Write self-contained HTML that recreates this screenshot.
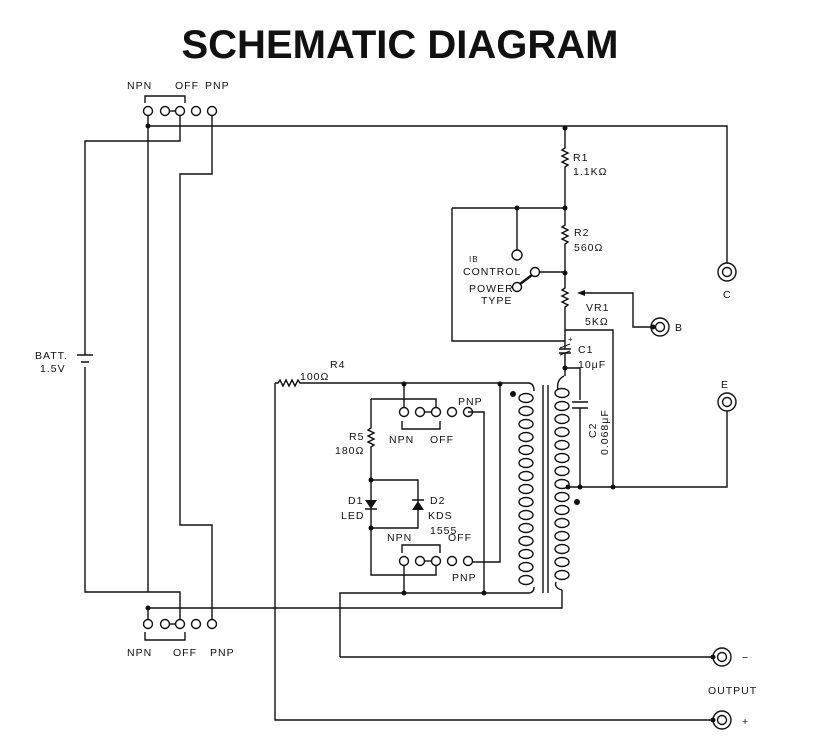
<!DOCTYPE html>
<html><head><style>
body{margin:0;background:#fff}
svg{display:block}
text{font-family:"Liberation Sans",sans-serif;fill:#111;font-size:10.5px;letter-spacing:1px}
.t{font-size:40px;font-weight:bold;letter-spacing:0}
</style></head><body>
<svg width="818" height="754" viewBox="0 0 818 754" xmlns="http://www.w3.org/2000/svg">
<text class="t" x="400" y="58" text-anchor="middle">SCHEMATIC DIAGRAM</text>
<g stroke="#111" stroke-width="1.4" fill="none">
<path d="M145 103V96H185V103"/>
<circle cx="148" cy="111" r="4.5"/><circle cx="165" cy="111" r="4.5"/><circle cx="180" cy="111" r="4.5"/><circle cx="196" cy="111" r="4.5"/><circle cx="212" cy="111" r="4.5"/>
<path d="M169 111H176"/>
<path d="M148 116V592"/>
<path d="M148 126H727V263"/>
<path d="M180 116V141H85V355"/>
<path d="M85 367V592H180V619"/>
<path d="M212 116V174H180V525H212V619"/>
<path d="M148 608H562V590"/>
<path d="M148 608V619"/>
<path d="M77 355H93M81 362H89" stroke-width="1.6"/>
<circle cx="148" cy="624" r="4.5"/><circle cx="165" cy="624" r="4.5"/><circle cx="180" cy="624" r="4.5"/><circle cx="196" cy="624" r="4.5"/><circle cx="212" cy="624" r="4.5"/>
<path d="M169 624H176"/>
<path d="M145 632V640H185V632"/>
<path d="M565 128V148l-3 2 6 3-6 3 6 3-6 3 6 3-3 2V225l-3 2 6 3-6 3 6 3-6 3 6 3-3 2V288l-3 2 6 3-6 3 6 3-6 3 6 3-3 2V330H613V487"/>
<path d="M452 208H565M517 208V250M452 208V341H565"/>
<circle cx="517" cy="255" r="5"/>
<circle cx="535" cy="272" r="4.5"/><circle cx="517" cy="287" r="4.5"/>
<path d="M540 272H565"/>
<path d="M532 275L520 284" stroke-width="2.5"/>
<path d="M580 293H633V327H651"/>
<circle cx="660" cy="327" r="9"/><circle cx="660" cy="327" r="4.5"/>
<path d="M565 330V349M559 349H571M559 353H571M565 353V368H580V400M572 402H588M572 408H588M580 408V487"/>
<path d="M560 348l10 -4M560 355l10-4" stroke-width="1"/>
<path d="M565 368V376"/>
<path d="M567 487H727V411"/>
<circle cx="727" cy="272" r="9"/><circle cx="727" cy="272" r="4.5"/>
<circle cx="727" cy="402" r="9"/><circle cx="727" cy="402" r="4.5"/>
<path d="M543 385V593M548 385V593"/>
<path d="M275 383H278l2-3 3 6 3-6 3 6 3-6 3 6 3-6 2 3H528q6 0 6 8"/>
<path d="M275 383V720H713"/>
<path d="M340 657H713M340 657V593H528q6 0 6-6"/>
<path d="M404 384V407M500 384V562H473M468 412H484V593"/>
<path d="M371 399H436V407M371 399V428l-3 2 6 3-6 3 6 3-6 3 6 3-3 2V575H436V566M371 480H418V528H371M404 566V593"/>
<circle cx="404" cy="412" r="4.5"/><circle cx="420" cy="412" r="4.5"/><circle cx="436" cy="412" r="4.5"/><circle cx="452" cy="412" r="4.5"/><circle cx="468" cy="412" r="4.5"/>
<path d="M424 412H432"/>
<path d="M402 421V429H440V421"/>
<circle cx="404" cy="561" r="4.5"/><circle cx="420" cy="561" r="4.5"/><circle cx="436" cy="561" r="4.5"/><circle cx="452" cy="561" r="4.5"/><circle cx="468" cy="561" r="4.5"/>
<path d="M424 561H432"/>
<path d="M402 553V545H440V553"/>
<path d="M564 376q-8 4-6 14M562 590q-8 -2-6 -8"/>
<circle cx="722" cy="657" r="9"/><circle cx="722" cy="657" r="4.5"/>
<circle cx="722" cy="720" r="9"/><circle cx="722" cy="720" r="4.5"/>
</g>
<g stroke="#111" stroke-width="1.4" fill="none">
<ellipse cx="526" cy="398" rx="7" ry="4.5"/><ellipse cx="526" cy="411" rx="7" ry="4.5"/><ellipse cx="526" cy="424" rx="7" ry="4.5"/><ellipse cx="526" cy="437" rx="7" ry="4.5"/><ellipse cx="526" cy="450" rx="7" ry="4.5"/><ellipse cx="526" cy="463" rx="7" ry="4.5"/><ellipse cx="526" cy="476" rx="7" ry="4.5"/><ellipse cx="526" cy="489" rx="7" ry="4.5"/><ellipse cx="526" cy="502" rx="7" ry="4.5"/><ellipse cx="526" cy="515" rx="7" ry="4.5"/><ellipse cx="526" cy="528" rx="7" ry="4.5"/><ellipse cx="526" cy="541" rx="7" ry="4.5"/><ellipse cx="526" cy="554" rx="7" ry="4.5"/><ellipse cx="526" cy="567" rx="7" ry="4.5"/><ellipse cx="526" cy="580" rx="7" ry="4.5"/>
<ellipse cx="562" cy="393" rx="7" ry="4.5"/><ellipse cx="562" cy="406" rx="7" ry="4.5"/><ellipse cx="562" cy="419" rx="7" ry="4.5"/><ellipse cx="562" cy="432" rx="7" ry="4.5"/><ellipse cx="562" cy="445" rx="7" ry="4.5"/><ellipse cx="562" cy="458" rx="7" ry="4.5"/><ellipse cx="562" cy="471" rx="7" ry="4.5"/><ellipse cx="562" cy="484" rx="7" ry="4.5"/><ellipse cx="562" cy="497" rx="7" ry="4.5"/><ellipse cx="562" cy="510" rx="7" ry="4.5"/><ellipse cx="562" cy="523" rx="7" ry="4.5"/><ellipse cx="562" cy="536" rx="7" ry="4.5"/><ellipse cx="562" cy="549" rx="7" ry="4.5"/><ellipse cx="562" cy="562" rx="7" ry="4.5"/><ellipse cx="562" cy="575" rx="7" ry="4.5"/>
</g>
<g fill="#111">
<circle cx="148" cy="126" r="2.5"/><circle cx="148" cy="608" r="2.5"/><circle cx="565" cy="128" r="2.5"/><circle cx="565" cy="208" r="2.5"/><circle cx="517" cy="208" r="2.5"/><circle cx="565" cy="273" r="2.5"/><circle cx="653" cy="327" r="2.5"/><circle cx="565" cy="368" r="2.5"/><circle cx="568" cy="487" r="2.5"/><circle cx="580" cy="487" r="2.5"/><circle cx="613" cy="487" r="2.5"/><circle cx="404" cy="384" r="2.5"/><circle cx="500" cy="384" r="2.5"/><circle cx="371" cy="480" r="2.5"/><circle cx="371" cy="528" r="2.5"/><circle cx="404" cy="593" r="2.5"/><circle cx="484" cy="593" r="2.5"/><circle cx="513" cy="394" r="3"/><circle cx="577" cy="502" r="3"/><circle cx="713" cy="657" r="2.5"/><circle cx="713" cy="720" r="2.5"/>
<path d="M577 293l8-3v6z"/>
<path d="M365 500h12l-6 9z"/><path d="M365 509h12" stroke="#111" stroke-width="1.5"/>
<path d="M412 510h12l-6-9z"/><path d="M412 500h12" stroke="#111" stroke-width="1.5"/>
</g>
<text x="127" y="89">NPN</text><text x="175" y="89">OFF</text><text x="205" y="89">PNP</text>
<text x="127" y="656">NPN</text><text x="173" y="656">OFF</text><text x="210" y="656">PNP</text>
<text x="35" y="359">BATT.</text><text x="40" y="372">1.5V</text>
<text x="573" y="161">R1</text><text x="573" y="175">1.1KΩ</text>
<text x="574" y="236">R2</text><text x="574" y="251">560Ω</text>
<text x="469" y="262" style="font-size:8px">IB</text>
<text x="463" y="275">CONTROL</text><text x="469" y="292">POWER</text><text x="481" y="304">TYPE</text>
<text x="586" y="311">VR1</text><text x="585" y="325">5KΩ</text>
<text x="675" y="331">B</text><text x="723" y="298">C</text><text x="721" y="388">E</text>
<text x="568" y="342" style="font-size:8px">+</text>
<text x="578" y="353">C1</text><text x="578" y="368">10μF</text>
<text transform="translate(596,438) rotate(-90)">C2</text>
<text transform="translate(608,455) rotate(-90)">0.068μF</text>
<text x="330" y="368">R4</text><text x="300" y="380">100Ω</text>
<text x="349" y="440">R5</text><text x="335" y="454">180Ω</text>
<text x="458" y="405">PNP</text><text x="389" y="443">NPN</text><text x="430" y="443">OFF</text>
<text x="348" y="504">D1</text><text x="341" y="519">LED</text>
<text x="430" y="504">D2</text><text x="428" y="519">KDS</text><text x="430" y="534">1555</text>
<text x="387" y="541">NPN</text><text x="448" y="541">OFF</text><text x="452" y="581">PNP</text>
<text x="708" y="694">OUTPUT</text><text x="742" y="661">−</text><text x="742" y="725">+</text>
</svg>
</body></html>
